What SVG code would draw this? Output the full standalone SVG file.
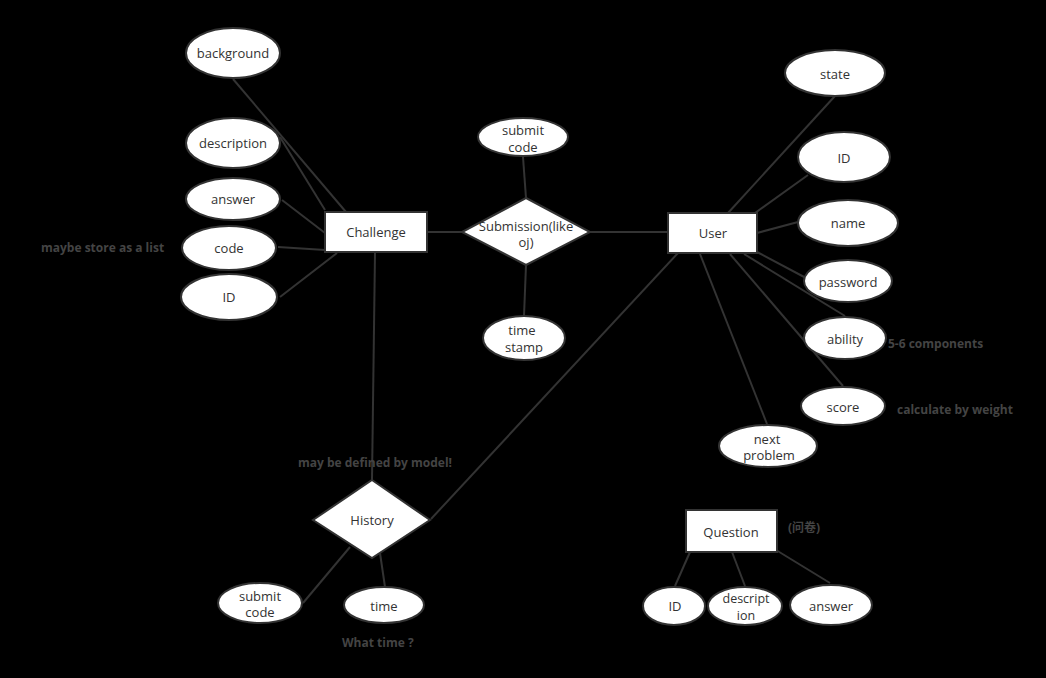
<svg xmlns="http://www.w3.org/2000/svg" width="1046" height="678" viewBox="0 0 1046 678">
<style>
.shape{fill:#fff;stroke:#333;stroke-width:2}
.lbl{font-family:"Open Sans","Noto Sans","Noto Sans CJK SC",sans-serif;font-size:13px;fill:#333;text-anchor:middle}
.sm{font-size:12.5px}
.note{font-family:"Open Sans","Noto Sans","Noto Sans CJK SC",sans-serif;font-size:12px;font-weight:bold;fill:#444}
#connectors line{stroke:#333;stroke-width:2}
</style>
<rect width="1046" height="678" fill="#000"/>
<g id="connectors">
<line x1="233" y1="79" x2="346" y2="212"/>
<line x1="280" y1="137" x2="325" y2="210"/>
<line x1="282" y1="200" x2="325" y2="233"/>
<line x1="278" y1="247" x2="325" y2="250"/>
<line x1="280" y1="297" x2="337" y2="253"/>
<line x1="375" y1="252" x2="372" y2="480"/>
<line x1="427" y1="232" x2="463" y2="232"/>
<line x1="523" y1="157" x2="526" y2="198"/>
<line x1="526" y1="265" x2="524" y2="316"/>
<line x1="590" y1="232" x2="668" y2="232"/>
<line x1="835" y1="96" x2="728" y2="213"/>
<line x1="808" y1="175" x2="755" y2="213"/>
<line x1="757" y1="233" x2="798" y2="222"/>
<line x1="757" y1="252" x2="806" y2="278"/>
<line x1="744" y1="254" x2="845" y2="316"/>
<line x1="730" y1="254" x2="843" y2="386"/>
<line x1="700" y1="254" x2="767" y2="424"/>
<line x1="678" y1="253" x2="431" y2="519"/>
<line x1="350" y1="547" x2="303" y2="603"/>
<line x1="380" y1="553" x2="385" y2="587"/>
<line x1="690" y1="552" x2="675" y2="586"/>
<line x1="732" y1="552" x2="745" y2="586"/>
<line x1="776" y1="550" x2="830" y2="583"/>
</g>
<g id="challenge"><rect class="shape" x="325" y="212" width="102" height="40"/><text class="lbl" x="376" y="237">Challenge</text></g>
<g id="ch-background"><ellipse class="shape" cx="233" cy="53" rx="47" ry="25"/><text class="lbl" x="233" y="58">background</text></g>
<g id="ch-description"><ellipse class="shape" cx="233" cy="143" rx="47" ry="25"/><text class="lbl" x="233" y="148">description</text></g>
<g id="ch-answer"><ellipse class="shape" cx="233" cy="199" rx="47" ry="21"/><text class="lbl" x="233" y="204">answer</text></g>
<g id="ch-code"><ellipse class="shape" cx="229" cy="248" rx="47" ry="22"/><text class="lbl" x="229" y="253">code</text></g>
<g id="ch-id"><ellipse class="shape" cx="229" cy="297" rx="48" ry="23"/><text class="lbl" x="229" y="302">ID</text></g>
<g id="submission"><polygon class="shape" points="526,198 590,232 526,265 462,232"/><text class="lbl" x="526" y="231">Submission(like</text><text class="lbl" x="526" y="247">oj)</text></g>
<g id="sub-code"><ellipse class="shape" cx="523" cy="137" rx="45" ry="19"/><text class="lbl" x="523" y="135">submit</text><text class="lbl" x="523" y="152">code</text></g>
<g id="sub-time"><ellipse class="shape" cx="524" cy="338" rx="41" ry="22"/><text class="lbl" x="522" y="335">time</text><text class="lbl" x="524" y="352">stamp</text></g>
<g id="user"><rect class="shape" x="668" y="213" width="89" height="40"/><text class="lbl" x="713" y="238">User</text></g>
<g id="u-state"><ellipse class="shape" cx="835" cy="73" rx="50" ry="23"/><text class="lbl" x="835" y="79">state</text></g>
<g id="u-id"><ellipse class="shape" cx="844" cy="157" rx="46" ry="25"/><text class="lbl" x="844" y="163">ID</text></g>
<g id="u-name"><ellipse class="shape" cx="848" cy="223" rx="50" ry="23"/><text class="lbl" x="848" y="228">name</text></g>
<g id="u-password"><ellipse class="shape" cx="848" cy="281" rx="44" ry="21"/><text class="lbl" x="848" y="287">password</text></g>
<g id="u-ability"><ellipse class="shape" cx="845" cy="338" rx="41" ry="21"/><text class="lbl" x="845" y="344">ability</text></g>
<g id="u-score"><ellipse class="shape" cx="843" cy="406" rx="42" ry="19"/><text class="lbl" x="843" y="412">score</text></g>
<g id="u-next"><ellipse class="shape" cx="768" cy="446" rx="49" ry="21"/><text class="lbl" x="767" y="444">next</text><text class="lbl" x="769" y="460">problem</text></g>
<g id="history"><polygon class="shape" points="372,480 430,520 372,558 313,520"/><text class="lbl" x="372" y="525">History</text></g>
<g id="h-code"><ellipse class="shape" cx="260" cy="603" rx="42" ry="20"/><text class="lbl" x="260" y="601">submit</text><text class="lbl" x="260" y="617">code</text></g>
<g id="h-time"><ellipse class="shape" cx="384" cy="605" rx="40" ry="18"/><text class="lbl" x="384" y="611">time</text></g>
<g id="question"><rect class="shape" x="686" y="510" width="91" height="42"/><text class="lbl" x="731" y="537">Question</text></g>
<g id="q-id"><ellipse class="shape" cx="674" cy="606" rx="31" ry="19"/><text class="lbl" x="675" y="611">ID</text></g>
<g id="q-description"><ellipse class="shape" cx="745" cy="606" rx="37" ry="19"/><text class="lbl sm" x="746" y="603">descript</text><text class="lbl sm" x="746" y="620">ion</text></g>
<g id="q-answer"><ellipse class="shape" cx="831" cy="605" rx="41" ry="20"/><text class="lbl" x="831" y="611">answer</text></g>
<g id="notes">
<text class="note" x="41" y="252">maybe store as a list</text>
<text class="note" x="888" y="348">5-6 components</text>
<text class="note" x="897" y="414">calculate by weight</text>
<text class="note" x="298" y="467">may be defined by model!</text>
<text class="note" x="342" y="647">What time ?</text>
<text class="note" x="788" y="532">(问卷)</text>
</g>
</svg>
